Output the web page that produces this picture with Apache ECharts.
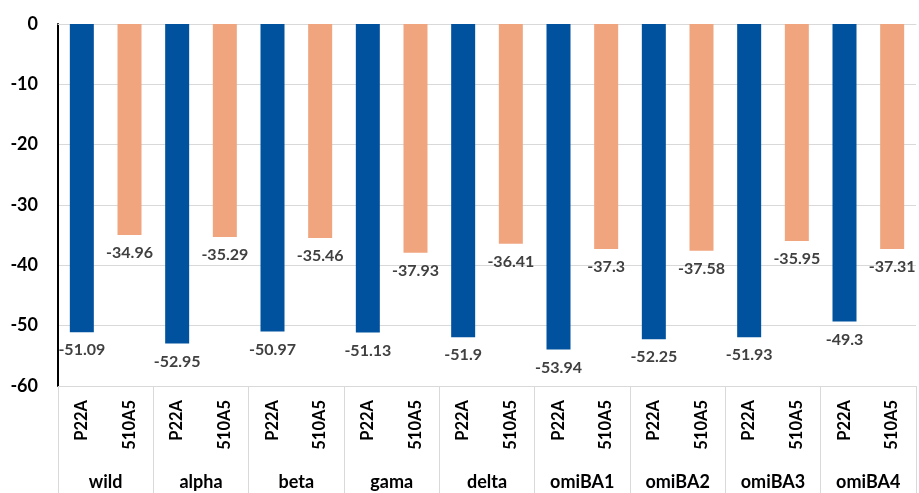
<!DOCTYPE html>
<html>
<head>
<meta charset="utf-8">
<script src="https://cdn.jsdelivr.net/npm/echarts@6/dist/echarts.min.js"></script>
<style>html,body{margin:0;padding:0;background:#fff;}#c{width:919px;height:493px;}</style>
</head>
<body>
<div id="c"></div>
<script>
const groups = ['wild','alpha','beta','gama','delta','omiBA1','omiBA2','omiBA3','omiBA4'];
const seriesNames = ['P22A','510A5'];
const p22aValues = [-51.09,-52.95,-50.97,-51.13,-51.9,-53.94,-52.25,-51.93,-49.3];
const a510Values = [-34.96,-35.29,-35.46,-37.93,-36.41,-37.3,-37.58,-35.95,-37.31];
const yTicks = {min:-60, max:0, interval:10};
const colors = ['#00529f','#f0a57f'];

const cats = [];
const data = [];
groups.forEach((g,i)=>{
  cats.push(seriesNames[0]); data.push({value:p22aValues[i], itemStyle:{color:colors[0]}});
  cats.push(seriesNames[1]); data.push({value:a510Values[i], itemStyle:{color:colors[1]}});
});
const FONT = 'Lato';
const chart = echarts.init(document.getElementById('c'));
chart.setOption({
  animation:false,
  grid:{left:58,right:3,top:24,bottom:107,containLabel:false},
  xAxis:[{
    type:'category', data:cats, position:'bottom',
    axisLine:{show:true,lineStyle:{color:'#d9d9d9',width:1}},
    axisTick:{show:false},
    axisLabel:{interval:0,rotate:90,margin:14,color:'#000',fontFamily:FONT,fontWeight:'bold',fontSize:16.5}
  },{
    type:'category', data:groups, position:'bottom',
    axisLine:{show:false},
    axisTick:{show:true,length:107,lineStyle:{color:'#d9d9d9',width:1}},
    axisLabel:{interval:0,margin:87,color:'#000',fontFamily:FONT,fontWeight:'bold',fontSize:18}
  }],
  yAxis:{
    type:'value', min:yTicks.min, max:yTicks.max, interval:yTicks.interval,
    axisLine:{show:true,lineStyle:{color:'#000',width:2}},
    axisTick:{show:false},
    splitLine:{lineStyle:{color:'#d9d9d9',width:1}},
    axisLabel:{margin:20,color:'#000',fontFamily:FONT,fontWeight:'bold',fontSize:18}
  },
  series:[{
    type:'bar', xAxisIndex:0, data:data, barWidth:24,
    label:{show:true,position:'bottom',distance:10,color:'#404040',fontFamily:FONT,fontWeight:'bold',fontSize:16}
  }]
});
</script>
</body>
</html>
